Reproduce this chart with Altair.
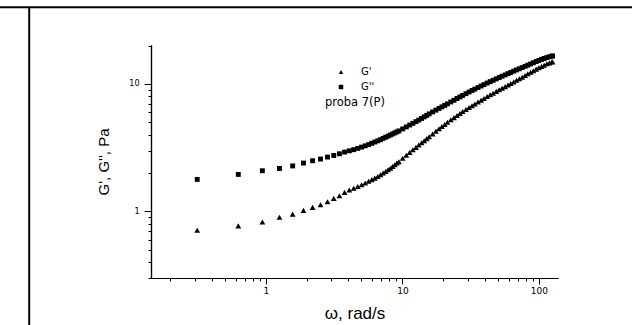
import altair as alt
import pandas as pd

# angular frequency, rad/s
omega = [0.314, 0.628, 0.942, 1.257, 1.571, 1.885, 2.199, 2.513, 2.827, 3.142,
         3.456, 3.770, 4.084, 4.398, 4.712, 5.027, 5.341, 5.655, 5.969, 6.283,
         6.597, 6.912, 7.226, 7.540, 7.854, 8.168, 8.482, 8.796, 9.111, 9.425,
         10.05, 10.68, 11.31, 11.94, 12.57, 13.19, 13.82, 14.45, 15.08, 15.71,
         16.65, 17.59, 18.54, 19.48, 20.42, 21.36,
         22.62, 23.88, 25.13, 26.39, 27.65,
         29.22, 30.79, 32.36, 33.93,
         35.81, 37.70, 39.58,
         41.78, 43.98, 46.18,
         48.69, 51.21, 53.72,
         56.55, 59.38, 62.20,
         65.35, 68.49, 71.94,
         75.40, 79.17, 82.94,
         87.02, 91.11,
         95.50, 99.90,
         104.6, 109.3,
         114.4, 119.4, 124.4, 125.7]

# G'' (loss modulus), Pa
g2 = [1.781, 1.949, 2.083, 2.171, 2.272, 2.393, 2.495, 2.572, 2.667, 2.745,
      2.830, 2.918, 2.987, 3.048, 3.120, 3.194, 3.268, 3.340, 3.420, 3.501,
      3.578, 3.650, 3.737, 3.818, 3.895, 3.972, 4.052, 4.126, 4.201, 4.277,
      4.434, 4.597, 4.758, 4.906, 5.058, 5.206, 5.358, 5.515, 5.666, 5.822,
      6.026, 6.223, 6.418, 6.606, 6.787, 6.974,
      7.217, 7.442, 7.688, 7.898, 8.128,
      8.381, 8.642, 8.879, 9.105,
      9.371, 9.629, 9.875,
      10.16, 10.42, 10.67,
      10.96, 11.22, 11.49,
      11.76, 12.04, 12.30,
      12.60, 12.87, 13.15,
      13.44, 13.73, 14.03,
      14.34, 14.66,
      14.98, 15.28,
      15.58, 15.84,
      16.10, 16.33, 16.51, 16.57]

# G' (storage modulus), Pa
g1 = [0.710, 0.769, 0.826, 0.898, 0.951, 1.018, 1.075, 1.128, 1.191, 1.264,
      1.327, 1.409, 1.471, 1.517, 1.567, 1.619, 1.669, 1.724, 1.774, 1.823,
      1.879, 1.935, 1.999, 2.057, 2.118, 2.179, 2.251, 2.321, 2.393, 2.450,
      2.615, 2.760, 2.903, 3.042, 3.177, 3.317, 3.451, 3.584, 3.723, 3.852,
      4.045, 4.254, 4.450, 4.639, 4.810, 4.995,
      5.225, 5.437, 5.657, 5.864, 6.069,
      6.291, 6.522, 6.749, 6.959,
      7.202, 7.454, 7.686,
      7.955, 8.217, 8.459,
      8.738, 8.993, 9.255,
      9.526, 9.804, 10.07,
      10.37, 10.67, 10.98,
      11.30, 11.65, 12.00,
      12.35, 12.69,
      13.06, 13.39,
      13.73, 14.03,
      14.37, 14.63, 14.87, 14.92]

series_names = ["G'", "G''"]
legend_title = "proba 7(P)"
x_title = "ω, rad/s"
y_title = "G', G'', Pa"
x_major = [1, 10, 100]
x_minor = [0.2, 0.3, 0.4, 0.5, 0.6, 0.7, 0.8, 0.9, 2, 3, 4, 5, 6, 7, 8, 9,
           20, 30, 40, 50, 60, 70, 80, 90]
y_major = [1, 10]
y_minor = [0.3, 0.4, 0.5, 0.6, 0.7, 0.8, 0.9, 2, 3, 4, 5, 6, 7, 8, 9, 20]

df1 = pd.DataFrame({"omega": omega, "value": g1, "series": series_names[0]})
df2 = pd.DataFrame({"omega": omega, "value": g2, "series": series_names[1]})

W, H = 407, 233
PL, PT = 151, 45
PR, PB = 632 - PL - W, 325 - PT - H

xs = alt.Scale(type="log", domain=[0.144, 138], nice=False)
ys = alt.Scale(type="log", domain=[0.3, 20.2], nice=False)

common_axis = dict(grid=False, domainColor="black", tickColor="black",
                   labelColor="black", titleColor="black", domainWidth=1.2,
                   tickWidth=1)

x_major_axis = alt.Axis(values=x_major, orient="bottom", tickSize=6, labelPadding=2,
                        labelFont="DejaVu Sans", labelFontSize=9, format="~g",
                        title=x_title, titleFont="Liberation Sans", titleFontSize=17,
                        titleFontWeight="normal", titleX=W / 2, titleY=40,
                        titleBaseline="alphabetic", titleAlign="center",
                        **common_axis)
y_major_axis = alt.Axis(values=y_major, orient="left", tickSize=7, labelPadding=5,
                        labelFont="DejaVu Sans", labelFontSize=8, format="~g",
                        title=y_title, titleFont="Liberation Sans", titleFontSize=15,
                        titleFontWeight="normal", titleX=-48, titleY=H / 2,
                        titleAngle=270, titleBaseline="middle", titleAlign="center",
                        **common_axis)
x_minor_axis = alt.Axis(values=x_minor, orient="bottom", tickSize=3, labels=False,
                        title="", **common_axis)
y_minor_axis = alt.Axis(values=y_minor, orient="left", tickSize=3, labels=False,
                        title="", **common_axis)

shape_scale = alt.Scale(domain=series_names, range=["triangle-up", "square"])
legend = alt.Legend(orient="none", legendX=174, legendY=22,
                    title=legend_title, titleOrient="bottom",
                    titleAnchor="middle", titleFont="DejaVu Sans",
                    titleFontSize=11.5, titleFontWeight="normal",
                    titleColor="black", titlePadding=5,
                    labelFont="DejaVu Sans", labelFontSize=10,
                    labelColor="black", labelOffset=15,
                    rowPadding=5, symbolSize=20,
                    symbolFillColor="black", symbolStrokeColor="black",
                    symbolStrokeWidth=0)

tri = alt.Chart(df1).mark_point(filled=True, color="black", opacity=1, size=34).encode(
    x=alt.X("omega:Q", scale=xs, axis=x_major_axis),
    y=alt.Y("value:Q", scale=ys, axis=y_major_axis),
    shape=alt.Shape("series:N", scale=shape_scale, legend=legend),
)
sq = alt.Chart(df2).mark_point(filled=True, color="black", opacity=1, size=24).encode(
    x=alt.X("omega:Q", scale=xs, axis=x_minor_axis),
    y=alt.Y("value:Q", scale=ys, axis=y_minor_axis),
    shape=alt.Shape("series:N", scale=shape_scale, legend=legend),
)

frame_df = pd.DataFrame({"k": [0]})
top_line = alt.Chart(frame_df).mark_rule(color="black", strokeWidth=2).encode(
    x=alt.value(-PL), x2=alt.value(W + PR), y=alt.value(7.3 - PT))
left_line = alt.Chart(frame_df).mark_rule(color="black", strokeWidth=2).encode(
    x=alt.value(29.2 - PL), y=alt.value(7.3 - PT), y2=alt.value(H + PB))

chart = alt.layer(tri, sq, top_line, left_line).resolve_axis(
    x="independent", y="independent"
).properties(
    width=W, height=H, autosize="none",
    padding={"left": PL, "top": PT, "right": PR, "bottom": PB},
    background="white",
).configure_view(stroke=None)

chart.save("out.html", embed_options={"renderer": "svg", "actions": False})
